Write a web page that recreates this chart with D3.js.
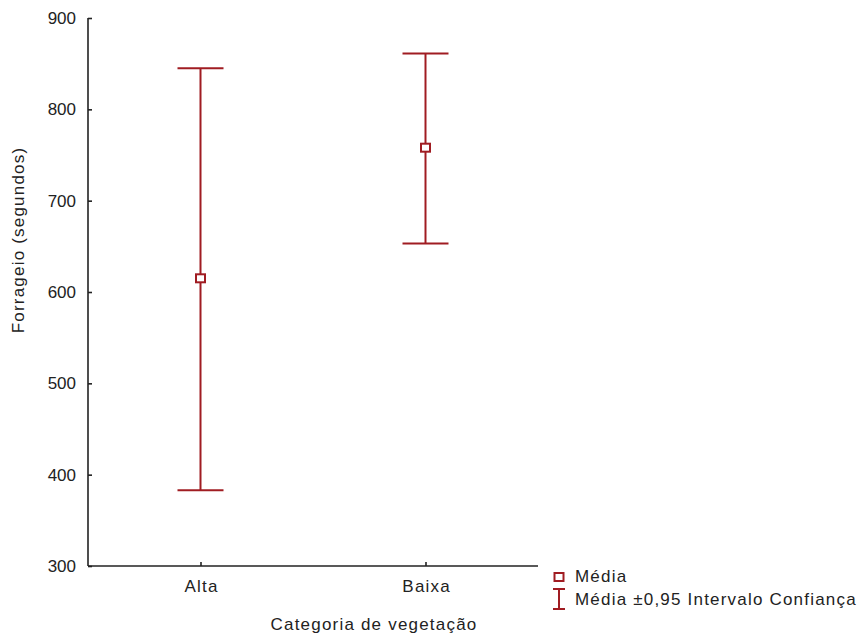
<!DOCTYPE html>
<html><head><meta charset="utf-8">
<script src="https://cdn.jsdelivr.net/npm/d3@7"></script>
<style>body{margin:0;background:#fff}svg text{font-family:"Liberation Sans",Arial,sans-serif;fill:#222}</style>
</head><body><svg id="c" width="861" height="638"></svg>
<script>
const categories = ["Alta", "Baixa"];
const means = [615, 758];
const lowers = [383, 653];
const uppers = [845, 861];
const yTicks = [300, 400, 500, 600, 700, 800, 900];
const legendLabels = ["Média", "Média ±0,95 Intervalo Confiança"];
const xTitle = "Categoria de vegetação";
const yTitle = "Forrageio (segundos)";

(function(){
const red = "#a01c22";
const svg = d3.select("#c");
const pL = 88, pR = 538, pT = 18, pB = 566;
const fs = 17, ls = 1.2;

const x = d3.scalePoint().domain(categories).range([pL, pR]).padding(0.5);
const y = d3.scaleLinear().domain([300, 900]).range([pB, pT]);

const yAxis = svg.append("g").attr("transform", `translate(${pL},0)`)
  .call(d3.axisLeft(y).tickValues(yTicks).tickSize(-4).tickPadding(12).tickFormat(d3.format("d")));
const xAxis = svg.append("g").attr("transform", `translate(0,${pB})`)
  .call(d3.axisBottom(x).tickSize(-4).tickPadding(14));
[yAxis, xAxis].forEach(g => {
  g.select(".domain").attr("stroke", "#222").attr("stroke-width", 1.6);
  g.selectAll(".tick line").attr("stroke", "#222").attr("stroke-width", 1.6);
  g.selectAll("text").attr("font-size", fs).attr("fill", "#222").attr("font-family", "Liberation Sans, Arial, sans-serif");
});
xAxis.selectAll("text").attr("letter-spacing", ls).attr("dx", ls / 2);
yAxis.select(".domain").attr("d", `M0,${pB}V${pT}`);
xAxis.select(".domain").attr("d", `M${pL},0H${pR}`);

const cap = 23;
const data = categories.map((c, i) => ({c, m: means[i], lo: lowers[i], hi: uppers[i]}));
const eb = svg.append("g").attr("stroke", red).attr("stroke-width", 2).attr("fill", "none");
data.forEach(d => {
  const cx = x(d.c);
  eb.append("line").attr("x1", cx).attr("x2", cx).attr("y1", y(d.hi)).attr("y2", y(d.lo));
  eb.append("line").attr("x1", cx - cap).attr("x2", cx + cap).attr("y1", y(d.hi)).attr("y2", y(d.hi));
  eb.append("line").attr("x1", cx - cap).attr("x2", cx + cap).attr("y1", y(d.lo)).attr("y2", y(d.lo));
});
svg.append("g").selectAll("rect").data(data).join("rect")
  .attr("x", d => x(d.c) - 4.5).attr("y", d => y(d.m) - 4)
  .attr("width", 9).attr("height", 8)
  .attr("fill", "#fff").attr("stroke", red).attr("stroke-width", 2);

svg.append("text").attr("x", 374).attr("y", 630).attr("text-anchor", "middle")
  .attr("font-size", fs).attr("letter-spacing", ls).text(xTitle);
svg.append("text").attr("transform", "translate(24,240) rotate(-90)").attr("text-anchor", "middle")
  .attr("font-size", fs).attr("letter-spacing", ls).text(yTitle);

const lg = svg.append("g");
lg.append("rect").attr("x", 554.5).attr("y", 573).attr("width", 9).attr("height", 8)
  .attr("fill", "#fff").attr("stroke", red).attr("stroke-width", 2);
lg.append("path").attr("d", "M553,589H565M559,589V609M553,609H565").attr("stroke", red).attr("stroke-width", 2).attr("fill", "none");
lg.append("text").attr("x", 575).attr("y", 582).attr("font-size", fs).attr("letter-spacing", ls).text(legendLabels[0]);
lg.append("text").attr("x", 575).attr("y", 605).attr("font-size", fs).attr("letter-spacing", ls).text(legendLabels[1]);
})();
</script></body></html>
